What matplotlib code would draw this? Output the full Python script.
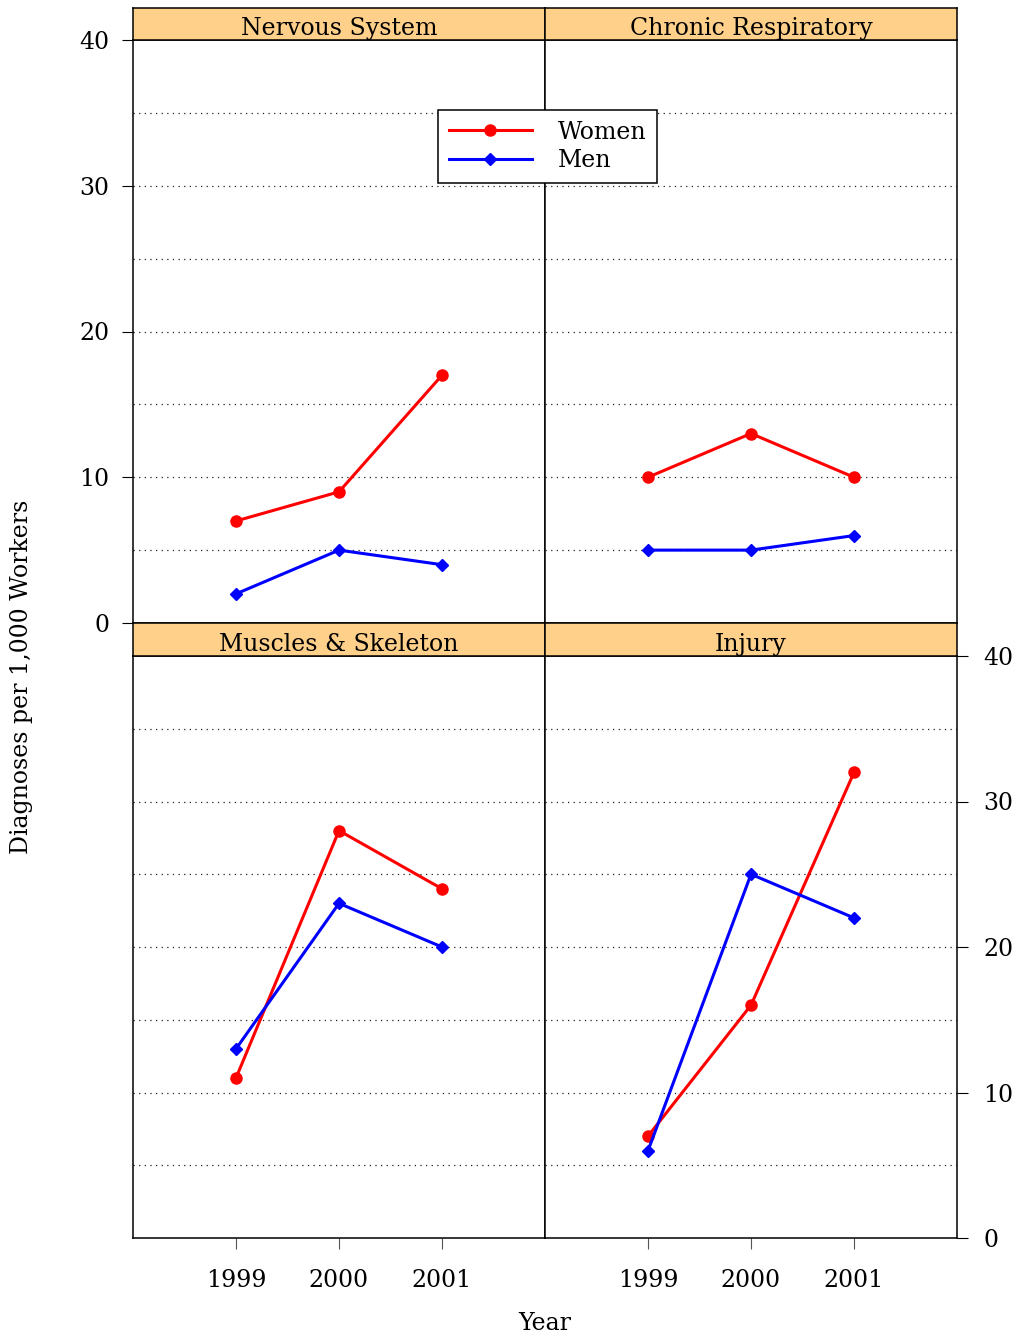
import matplotlib
matplotlib.use("Agg")
import matplotlib.pyplot as plt
from matplotlib.lines import Line2D

plt.rcParams['font.family'] = ['DejaVu Serif']

years = [1999, 2000, 2001]
panels = ["Nervous System", "Chronic Respiratory", "Muscles & Skeleton", "Injury"]
women = {
    "Nervous System": [7, 9, 17],
    "Chronic Respiratory": [10, 13, 10],
    "Muscles & Skeleton": [11, 28, 24],
    "Injury": [7, 16, 32],
}
men = {
    "Nervous System": [2, 5, 4],
    "Chronic Respiratory": [5, 5, 6],
    "Muscles & Skeleton": [13, 23, 20],
    "Injury": [6, 25, 22],
}
y_ticks = [0, 10, 20, 30, 40]
grid_levels = [5, 10, 15, 20, 25, 30, 35]

W, H = 1016, 1340
fig = plt.figure(figsize=(W / 100, H / 100), dpi=100)

strip_color = '#FED08A'
fs = 17

def fx(px):
    return px / W

def fy(py):
    return 1 - py / H

col_x = [133, 545, 957]
rows = [(8, 40, 623), (623, 656, 1238)]

for i, name in enumerate(panels):
    r, c = divmod(i, 2)
    x0, x1 = col_x[c], col_x[c + 1]
    s0, p0, p1 = rows[r]
    ax = fig.add_axes([fx(x0), fy(p1), fx(x1 - x0), (p1 - p0) / H])
    ax.set_xlim(1998, 2002)
    ax.set_ylim(0, 40)
    for g in grid_levels:
        ax.axhline(g, color='#222222', linestyle=(0, (1, 3.5)), linewidth=0.9, zorder=1)
    ax.plot(years, women[name], color='red', linewidth=2.2, marker='o', markersize=8, zorder=3)
    ax.plot(years, men[name], color='blue', linewidth=2.2, marker='D', markersize=6, zorder=3)
    for sp in ax.spines.values():
        sp.set_linewidth(1.1)
        sp.set_color('black')
    ax.tick_params(axis='both', direction='out', length=8, width=0.8, color='#555555',
                   labelsize=fs)
    if r == 1:
        ax.set_xticks(years)
        ax.set_xticklabels([str(y) for y in years])
        ax.tick_params(axis='x', pad=14)
    else:
        ax.set_xticks([])
    if r == 0 and c == 0:
        ax.set_yticks(y_ticks)
        ax.tick_params(axis='y', left=True, labelleft=True, pad=9, color='black')
    elif r == 1 and c == 1:
        ax.set_yticks(y_ticks)
        ax.yaxis.tick_right()
        ax.tick_params(axis='y', right=True, labelright=True, pad=11, color='black')
    else:
        ax.set_yticks([])
    sax = fig.add_axes([fx(x0), fy(p0), fx(x1 - x0), (p0 - s0) / H])
    sax.set_facecolor(strip_color)
    sax.set_xticks([])
    sax.set_yticks([])
    for sp in sax.spines.values():
        sp.set_linewidth(1.1)
        sp.set_color('black')
    sax.text(0.5, 0.35, name, ha='center', va='center', fontsize=fs, transform=sax.transAxes)

handles = [
    Line2D([0], [0], color='red', linewidth=2.2, marker='o', markersize=8),
    Line2D([0], [0], color='blue', linewidth=2.2, marker='D', markersize=6),
]
leg = fig.legend(handles, ['Women', 'Men'], loc='center', bbox_to_anchor=(fx(547.5), fy(146.5)),
                 fontsize=fs, frameon=True, fancybox=False, edgecolor='black', handlelength=3.5,
                 handletextpad=1.1, borderpad=0.45, labelspacing=0.25, framealpha=1,
                 borderaxespad=0)
leg.get_frame().set_linewidth(1.1)

fig.text(fx(22), fy(677), 'Diagnoses per 1,000 Workers', rotation=90, ha='center', va='center', fontsize=fs)
fig.text(fx(545), fy(1323), 'Year', ha='center', va='center', fontsize=fs)

fig.savefig('out.png', dpi=100)
